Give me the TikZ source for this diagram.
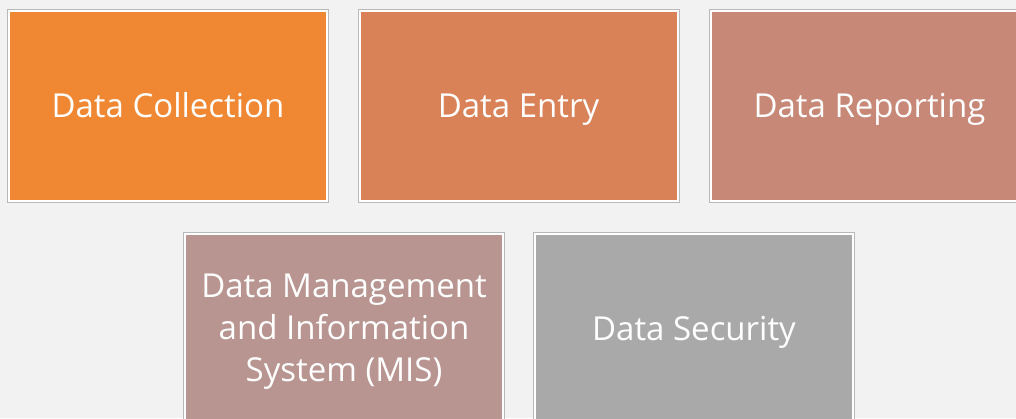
\documentclass[tikz,border=0pt]{standalone}
\usepackage{fontspec}
\setmainfont{Open Sans}
\definecolor{bgc}{HTML}{F2F2F2}
\definecolor{cA}{HTML}{EF8733}
\definecolor{cB}{HTML}{D98157}
\definecolor{cC}{HTML}{C78877}
\definecolor{cD}{HTML}{B89590}
\definecolor{cE}{HTML}{A9A9A9}
\begin{document}
\begin{tikzpicture}[x=1pt,y=1pt,
  card/.style={rectangle, minimum width=318pt, minimum height=190pt, inner sep=0pt,
    draw=white, line width=2pt, text=white, align=center,
    font=\fontsize{33}{42}\selectfont,
    preaction={draw=gray!55, line width=4pt}},
  oneline/.style={text height=27pt, text depth=5pt}]
\useasboundingbox (0,0) rectangle (1016,-418);
\fill[bgc] (0,0) rectangle (1016,-418);
\clip (0,0) rectangle (1016,-418);
\node[card, oneline, fill=cA] (a) at (168,-106) {Data Collection};
\node[card, oneline, fill=cB] (b) at (518.5,-106) {Data Entry};
\node[card, oneline, fill=cC] (c) at (869.5,-106) {Data Reporting};
\node[card, fill=cD] (d) at (344,-329) {};
\node[align=center, text=white, font=\fontsize{33}{42}\selectfont, inner sep=0pt] (dt) at (344,-332) {Data Management\\and Information\\System (MIS)};
\node[card, oneline, fill=cE] (e) at (694,-329) {Data Security};
\end{tikzpicture}
\end{document}
